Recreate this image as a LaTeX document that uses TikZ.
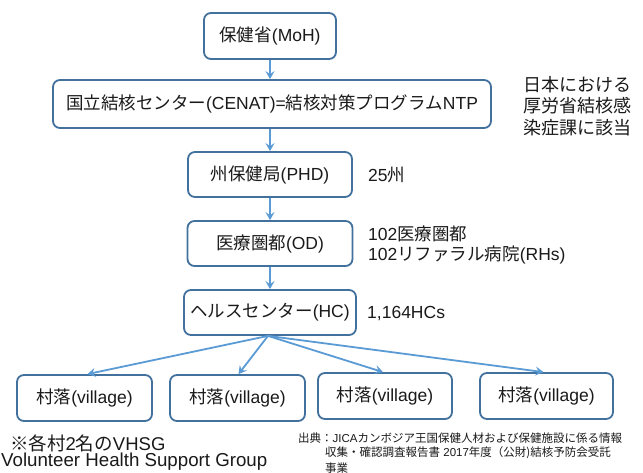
\documentclass[tikz,border=0pt]{standalone}
\usepackage{fontspec}
\setmainfont{Liberation Sans}
\newfontfamily\jpfont{Noto Sans CJK JP}
\newcommand\JP[1]{{\jpfont #1}}
\usetikzlibrary{arrows.meta}
\definecolor{boxblue}{HTML}{41719C}
\definecolor{arrblue}{HTML}{5B9BD5}
\definecolor{txt}{HTML}{1A1A1A}
\begin{document}
\begin{tikzpicture}[x=1pt,y=-1pt,
  box/.style={draw=boxblue, line width=1.8pt, rounded corners=7pt, fill=white,
    inner sep=0pt, text=txt, font=\fontsize{17.5}{21}\selectfont},
  lbl/.style={anchor=west, inner sep=0pt, text=txt, align=left},
  arr/.style={draw=arrblue, line width=1.8pt, -{Stealth[length=8pt,width=9pt,inset=3pt]}}]
\useasboundingbox (0,0) rectangle (643,473);
\fill[white] (0,0) rectangle (643,473);
% boxes
\node[box, minimum width=132pt, minimum height=46pt] (moh) at (270,36) {\JP{保健省}(MoH)};
\node[box, minimum width=438pt, minimum height=48pt] (cenat) at (272,104) {\JP{国立結核センター}(CENAT)=\JP{結核対策プログラム}NTP};
\node[box, minimum width=164pt, minimum height=45pt] (phd) at (270,174.5) {\JP{州保健局}(PHD)};
\node[box, minimum width=165pt, minimum height=45pt] (od) at (270,243.5) {\JP{医療圏都}(OD)};
\node[box, minimum width=172pt, minimum height=45pt] (hc) at (270,312.5) {\JP{ヘルスセンター}(HC)};
\node[box, minimum width=135pt, minimum height=46pt] (v1) at (84.5,398) {\JP{村落}(village)};
\node[box, minimum width=135pt, minimum height=46pt] (v2) at (237.5,398) {\JP{村落}(village)};
\node[box, minimum width=134pt, minimum height=46pt] (v3) at (385,396) {\JP{村落}(village)};
\node[box, minimum width=133pt, minimum height=46pt] (v4) at (546.5,396) {\JP{村落}(village)};
% arrows
\draw[arr] (moh.south) -- (moh.south |- cenat.north);
\draw[arr] (cenat.south -| phd.north) -- (phd.north);
\draw[arr] (phd.south) -- (phd.south |- od.north);
\draw[arr] (od.south) -- (od.south |- hc.north);
\coordinate (hcb) at ([xshift=-2pt]hc.south);
\draw[arr] (hcb) -- ([xshift=3pt]v1.north);
\draw[arr] (hcb) -- ([xshift=1pt]v2.north);
\draw[arr] (hcb) -- ([xshift=-2pt]v3.north);
\draw[arr] (hcb) -- ([xshift=-3pt]v4.north);
% side labels
\node[lbl, font=\jpfont\fontsize{18}{21.5}\selectfont] (jp) at (523,106) {日本における\\厚労省結核感\\染症課に該当};
\node[lbl, font=\fontsize{17.5}{20}\selectfont] (l25) at (368,175) {25\JP{州}};
\node[lbl, font=\fontsize{17.5}{20}\selectfont] (l102) at (368,245) {102\JP{医療圏都}\\102\JP{リファラル病院}(RHs)};
\node[lbl, font=\fontsize{17.5}{20}\selectfont] (l1164) at (367,314) {1,164HCs};
% notes
\node[lbl, font=\fontsize{18.5}{21}\selectfont] (n1) at (10,443) {\JP{※各村}2\JP{名の}VHSG};
\node[lbl, font=\fontsize{18.7}{21}\selectfont] (n2) at (1,462) {Volunteer Health Support Group};
\node[lbl, font=\fontsize{11.5}{15}\selectfont] (s1) at (298,438) {\JP{出典：}JICA\JP{カンボジア王国保健人材および保健施設に係る情報}};
\node[lbl, font=\fontsize{11.5}{15}\selectfont] (s2) at (325,453) {\JP{収集・確認調査報告書} 2017\JP{年度（公財)結核予防会受託}};
\node[lbl, font=\fontsize{11.5}{15}\selectfont] (s3) at (325,468) {\JP{事業}};
\end{tikzpicture}
\end{document}
